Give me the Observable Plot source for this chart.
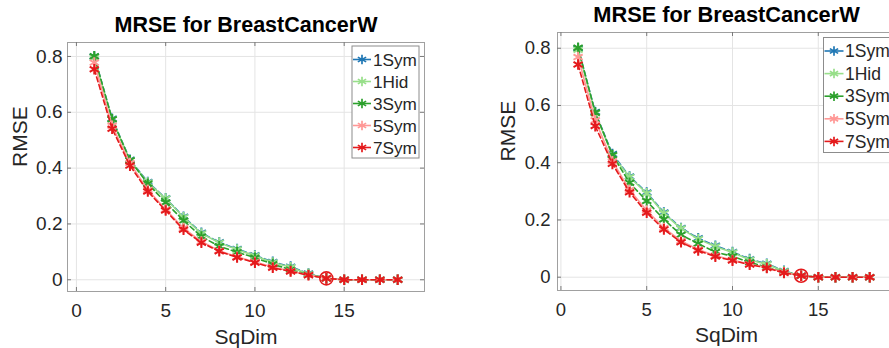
<!DOCTYPE html>
<html>
<head>
<meta charset="utf-8">
<script src="https://cdn.jsdelivr.net/npm/d3@7"></script>
<script src="https://cdn.jsdelivr.net/npm/@observablehq/plot@0.6"></script>
<style>
html, body { margin: 0; padding: 0; background: #fff; overflow: hidden; width: 889px; height: 348px; }
#wrap { position: relative; width: 889px; height: 348px; overflow: hidden; }
.panel { position: absolute; top: 0; }
</style>
</head>
<body>
<div id="wrap"></div>
<script>
// ---- data ----
const sqDim = [1, 2, 3, 4, 5, 6, 7, 8, 9, 10, 11, 12, 13, 14, 15, 16, 17, 18];
const seriesNames = ["1Sym", "1Hid", "3Sym", "5Sym", "7Sym"];
const seriesColors = ["#1f77b4", "#98df8a", "#2ca02c", "#ff9896", "#e41a1c"];
const seriesDash = ["5,3", null, "5,3", null, "5,3"];
const xTicks = [0, 5, 10, 15];
const yTicks = [0, 0.2, 0.4, 0.6, 0.8];
const titleText = "MRSE for BreastCancerW";
const xLabelText = "SqDim";
const yLabelText = "RMSE";

// left panel
const left1Sym = [0.800, 0.577, 0.430, 0.350, 0.292, 0.226, 0.168, 0.134, 0.110, 0.088, 0.064, 0.047, 0.022, 0.005, 0, 0, 0, 0];
const left1Hid = [0.795, 0.575, 0.428, 0.348, 0.291, 0.224, 0.166, 0.133, 0.108, 0.086, 0.062, 0.045, 0.021, 0.005, 0, 0, 0, 0];
const left3Sym = [0.801, 0.575, 0.428, 0.344, 0.277, 0.212, 0.155, 0.120, 0.099, 0.079, 0.056, 0.036, 0.018, 0.005, 0, 0, 0, 0];
const left5Sym = [0.778, 0.552, 0.418, 0.322, 0.252, 0.185, 0.137, 0.104, 0.082, 0.064, 0.046, 0.031, 0.017, 0.005, 0, 0, 0, 0];
const left7Sym = [0.754, 0.541, 0.409, 0.316, 0.248, 0.179, 0.133, 0.102, 0.080, 0.061, 0.043, 0.030, 0.016, 0.005, 0, 0, 0, 0];

// right panel
const right1Sym = [0.800, 0.577, 0.430, 0.352, 0.296, 0.226, 0.172, 0.136, 0.110, 0.088, 0.063, 0.047, 0.022, 0.005, 0, 0, 0, 0];
const right1Hid = [0.795, 0.573, 0.425, 0.350, 0.293, 0.223, 0.170, 0.133, 0.107, 0.086, 0.061, 0.045, 0.021, 0.005, 0, 0, 0, 0];
const right3Sym = [0.802, 0.575, 0.427, 0.330, 0.266, 0.202, 0.148, 0.117, 0.088, 0.073, 0.052, 0.035, 0.018, 0.005, 0, 0, 0, 0];
const right5Sym = [0.769, 0.548, 0.405, 0.305, 0.233, 0.172, 0.127, 0.097, 0.075, 0.060, 0.045, 0.033, 0.017, 0.005, 0, 0, 0, 0];
const right7Sym = [0.743, 0.528, 0.396, 0.297, 0.225, 0.167, 0.122, 0.093, 0.072, 0.058, 0.044, 0.032, 0.015, 0.005, 0, 0, 0, 0];

// highlighted point (circle marker)
const highlightX = 14;
const highlightY = 0.005;

const FONT = "'Liberation Sans', Arial, Helvetica, sans-serif";

function makePanel(c) {
  const H = 348;
  const plotH = H - c.mt - c.mb;
  const plotW = c.width - c.ml - c.mr;
  const marks = [
    Plot.gridX(xTicks, {stroke: "#e4e4e4", strokeOpacity: 1, strokeWidth: 1}),
    Plot.gridY(yTicks, {stroke: "#e4e4e4", strokeOpacity: 1, strokeWidth: 1}),
    Plot.frame({stroke: "#a0a0a0", strokeWidth: 1}),
    // inward tick marks
    Plot.tickX(xTicks, {x: d => d, stroke: "#7a7a7a", insetTop: plotH - 4}),
    Plot.tickX(xTicks, {x: d => d, stroke: "#7a7a7a", insetBottom: plotH - 4}),
    Plot.tickY(yTicks, {y: d => d, stroke: "#7a7a7a", insetRight: plotW - 4}),
    Plot.tickY(yTicks, {y: d => d, stroke: "#7a7a7a", insetLeft: plotW - 4}),
    Plot.axisX(xTicks, {anchor: "bottom", tickSize: 0, tickPadding: c.xPad, fontSize: c.tickFont, fill: "#262626", label: null}),
    Plot.axisY(yTicks, {anchor: "left", tickSize: 0, tickPadding: c.yPad, fontSize: c.tickFont, fill: "#262626", label: null, tickFormat: d => String(d)})
  ];
  seriesNames.forEach((name, i) => {
    const rows = sqDim.map((x, j) => ({x, y: c.values[i][j]}));
    marks.push(Plot.line(rows, {x: "x", y: "y", stroke: seriesColors[i], strokeWidth: 1.6, strokeDasharray: seriesDash[i]}));
    marks.push(Plot.dot(rows, {x: "x", y: "y", symbol: "asterisk", stroke: seriesColors[i], r: 5, strokeWidth: 2}));
  });
  marks.push(Plot.dot([{x: highlightX, y: highlightY}], {x: "x", y: "y", r: 6.5, stroke: seriesColors[4], strokeWidth: 1.6, fill: "none"}));
  marks.push(Plot.text([titleText], {text: d => d, frameAnchor: "top", dy: c.titleDy, fontSize: c.titleFont, fontWeight: "bold", fill: "#000", lineAnchor: "middle"}));
  marks.push(Plot.text([xLabelText], {text: d => d, frameAnchor: "bottom", dy: c.xLabelDy, fontSize: 21, fill: "#262626", lineAnchor: "middle"}));
  marks.push(Plot.text([yLabelText], {text: d => d, frameAnchor: "left", dx: c.yLabelDx, rotate: -90, fontSize: 21, fill: "#262626", lineAnchor: "middle"}));

  const svg = Plot.plot({
    width: c.width,
    height: H,
    marginLeft: c.ml, marginRight: c.mr, marginTop: c.mt, marginBottom: c.mb,
    x: {domain: c.xDomain},
    y: {domain: c.yDomain},
    style: {fontFamily: FONT, background: "transparent", overflow: "visible"},
    marks
  });

  // legend
  const L = c.legend;
  const g = d3.select(svg).append("g").attr("font-family", FONT).attr("text-anchor", "start");
  g.append("rect").attr("x", L.x).attr("y", L.y).attr("width", L.w).attr("height", L.h)
    .attr("fill", "#fff").attr("stroke", "#8c8c8c").attr("stroke-width", 1);
  seriesNames.forEach((name, i) => {
    const y = L.y0 + i * L.step;
    g.append("line").attr("x1", L.lx1).attr("x2", L.lx2).attr("y1", y).attr("y2", y)
      .attr("stroke", seriesColors[i]).attr("stroke-width", 1.6);
    g.append("path").attr("d", d3.symbol(d3.symbolAsterisk, 4.5 * 4.5 * Math.PI)())
      .attr("transform", `translate(${(L.lx1 + L.lx2) / 2},${y})`)
      .attr("stroke", seriesColors[i]).attr("stroke-width", 1.7).attr("fill", "none");
    g.append("text").attr("x", L.tx).attr("y", y).attr("dy", "0.35em")
      .attr("text-anchor", "start")
      .attr("font-size", L.font).attr("fill", "#262626").text(name);
  });
  svg.classList.add("panel");
  svg.style.left = c.left + "px";
  return svg;
}

const wrap = document.getElementById("wrap");
wrap.appendChild(makePanel({
  left: 0, width: 445, ml: 67, mr: 21, mt: 42, mb: 57,
  xDomain: [-0.5, 19.5], yDomain: [-0.042, 0.85],
  values: [left1Sym, left1Hid, left3Sym, left5Sym, left7Sym],
  tickFont: 19, xPad: 12, yPad: 5,
  titleFont: 21.5, titleDy: -17, xLabelDy: 46, yLabelDx: -47,
  legend: {x: 352, y: 46, w: 67, h: 112, y0: 59.5, step: 22, lx1: 353, lx2: 371, tx: 373, font: 17.2}
}));
wrap.appendChild(makePanel({
  left: 445, width: 455, ml: 112, mr: 5, mt: 32, mb: 58,
  xDomain: [-0.2, 19.5], yDomain: [-0.0465, 0.855],
  values: [right1Sym, right1Hid, right3Sym, right5Sym, right7Sym],
  tickFont: 18.5, xPad: 12, yPad: 7,
  titleFont: 21.8, titleDy: -17, xLabelDy: 45, yLabelDx: -49,
  legend: {x: 378.5, y: 37.5, w: 70, h: 115, y0: 51, step: 22.6, lx1: 379.5, lx2: 398.5, tx: 400, font: 17.5}
}));
</script>
</body>
</html>
